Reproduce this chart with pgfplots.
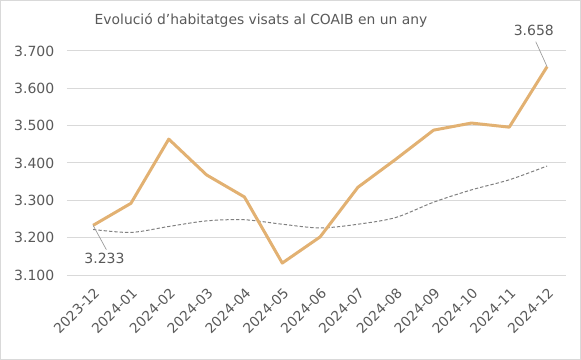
\documentclass[border=0pt]{standalone}
\usepackage{fontspec}
\setmainfont{DejaVu Sans}
\usepackage{pgfplots}
\pgfplotsset{compat=1.18}
\definecolor{lineor}{RGB}{226,177,114}
\definecolor{txt}{RGB}{89,89,89}
\definecolor{gridc}{RGB}{217,217,217}
\begin{document}
\begin{tikzpicture}
\path[draw=gridc, line width=0.75pt] (0.375pt,0.375pt) rectangle (435.375pt,269.625pt);
\node[text=txt, font=\fontsize{10.4}{12}\selectfont] at (195.75pt,254.5pt) {Evolució d'habitatges visats al COAIB en un any};
\begin{axis}[
  at={(50.25pt,63.75pt)}, anchor=south west,
  scale only axis, width=374.25pt, height=168pt,
  xmin=-0.69, xmax=12.5, ymin=3100, ymax=3700,
  axis line style={draw=none},
  major tick length=0pt,
  ymajorgrids, grid style={gridc, line width=0.75pt},
  ytick={3100,3200,...,3700},
  xtick={0,...,12},
  xticklabels={2023-12,2024-01,2024-02,2024-03,2024-04,2024-05,2024-06,2024-07,2024-08,2024-09,2024-10,2024-11,2024-12},
  x tick label style={rotate=45, anchor=north east, text=txt, font=\fontsize{10.3}{12}\selectfont, inner sep=0pt, xshift=-6pt, yshift=-6pt},
  y tick label style={text=txt, font=\fontsize{10.5}{12}\selectfont, xshift=-6pt},
  yticklabel={\pgfmathprintnumber[1000 sep={.}, assume math mode=true]{\tick}},
  clip=false,
]
\addplot[color=black!50, line width=0.75pt, dash pattern=on 2.5pt off 1.5pt, smooth] coordinates {
(0,3222) (1,3214) (2,3230) (3,3245) (4,3248) (5,3236) (6,3226) (7,3236) (8,3254) (9,3295) (10,3328) (11,3355) (12,3392)};
\addplot[color=lineor, line width=2.25pt, line join=round] coordinates {
(0,3233) (1,3292) (2,3464) (3,3368) (4,3309) (5,3132) (6,3202) (7,3335) (8,3410) (9,3488) (10,3507) (11,3496) (12,3658)};
\draw[black!40, line width=0.5pt] (axis cs:0,3233) -- (axis cs:0.35,3168);
\node[text=txt, font=\fontsize{10.5}{12}\selectfont] at (axis cs:0.3,3145) {3.233};
\draw[black!40, line width=0.5pt] (axis cs:12,3658) -- (axis cs:11.7,3725);
\node[text=txt, font=\fontsize{10.5}{12}\selectfont] at (axis cs:11.65,3756) {3.658};
\end{axis}
\end{tikzpicture}
\end{document}
